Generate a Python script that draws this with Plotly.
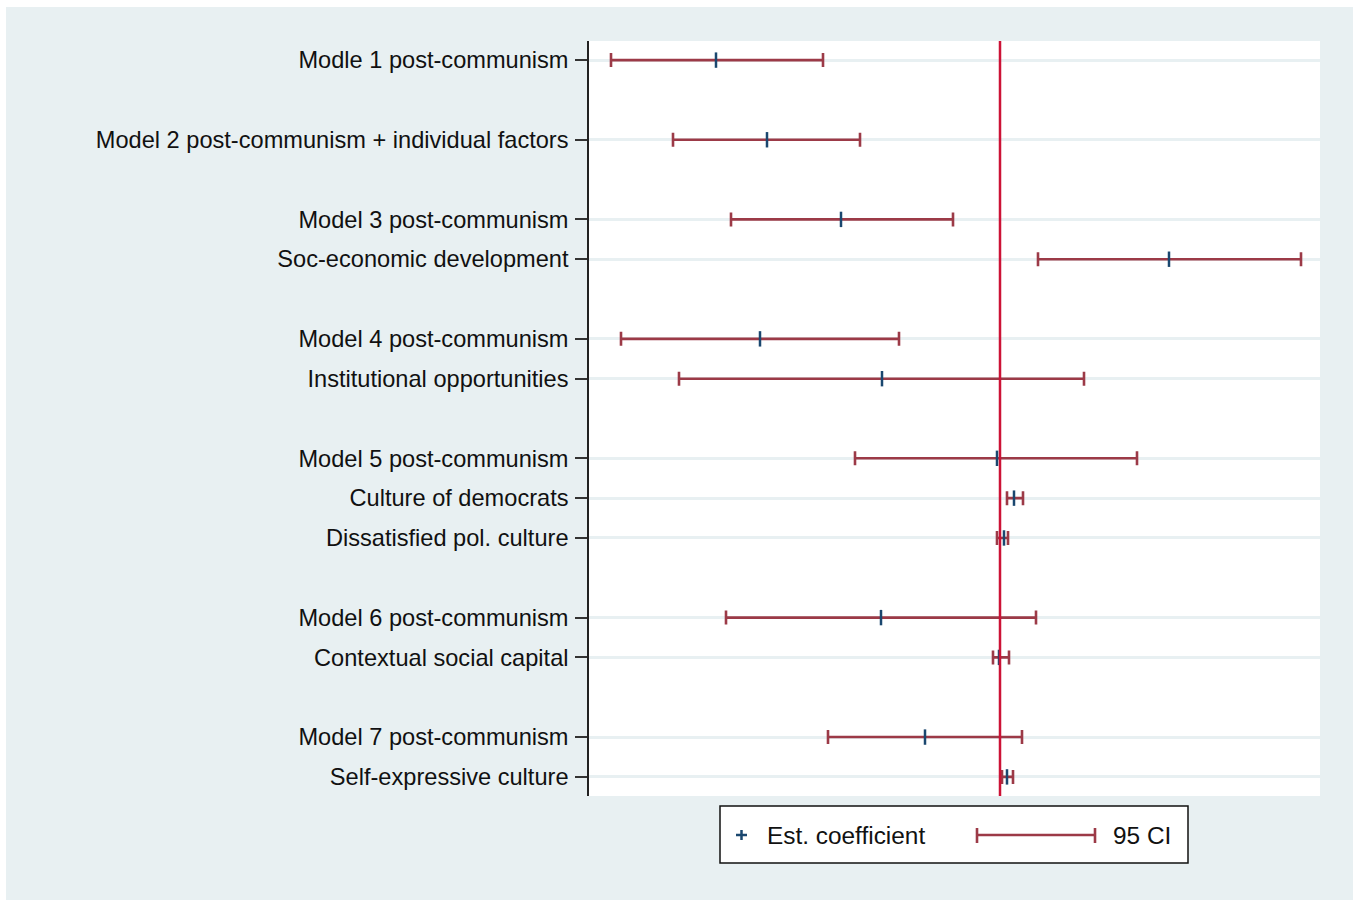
import plotly.graph_objects as go

labels = [
    "Modle 1 post-communism",
    "Model 2 post-communism + individual factors",
    "Model 3 post-communism",
    "Soc-economic development",
    "Model 4 post-communism",
    "Institutional opportunities",
    "Model 5 post-communism",
    "Culture of democrats",
    "Dissatisfied pol. culture",
    "Model 6 post-communism",
    "Contextual social capital",
    "Model 7 post-communism",
    "Self-expressive culture",
]
rows = [0, 2, 4, 5, 7, 8, 10, 11, 12, 14, 15, 17, 18]
estimate = [-2.84, -2.33, -1.59, 1.69, -2.40, -1.18, -0.03, 0.14, 0.04, -1.19, -0.01, -0.75, 0.07]
ci_low = [-3.89, -3.27, -2.69, 0.38, -3.79, -3.21, -1.45, 0.07, -0.03, -2.74, -0.07, -1.72, 0.02]
ci_high = [-1.77, -1.40, -0.47, 3.01, -1.01, 0.84, 1.37, 0.23, 0.08, 0.36, 0.09, 0.22, 0.13]

CI_COLOR = "#9c3a47"
EST_COLOR = "#1a476f"
ZERO_COLOR = "#cc1236"
BG = "#e8f0f2"
FONT = "Liberation Sans, Arial, sans-serif"

fig = go.Figure()
fig.add_trace(go.Scatter(
    x=estimate, y=rows, mode="markers",
    marker=dict(symbol="line-ns", size=11, color=EST_COLOR,
                line=dict(color=EST_COLOR, width=2.5)),
    error_x=dict(type="data", symmetric=False,
                 array=[h - e for h, e in zip(ci_high, estimate)],
                 arrayminus=[e - l for e, l in zip(estimate, ci_low)],
                 color=CI_COLOR, thickness=2.6, width=7),
    showlegend=False, hoverinfo="skip",
))

L, R, T, B = 589, 1320, 41, 796
W, H = R - L, B - T
def px(x):
    return (x - L) / W
def py(y):
    return (B - y) / H

shapes = [
    # outer background panel
    dict(type="rect", xref="paper", yref="paper", x0=px(6), x1=px(1353), y0=py(900), y1=py(7),
         fillcolor=BG, line=dict(width=0), layer="below"),
    # white plot region
    dict(type="rect", xref="paper", yref="paper", x0=0, x1=1, y0=0, y1=1,
         fillcolor="white", line=dict(width=0), layer="below"),
    # zero line
    dict(type="line", xref="x", yref="paper", x0=0, x1=0, y0=0, y1=1,
         line=dict(color=ZERO_COLOR, width=2.5), layer="above"),
    # legend box
    dict(type="rect", xref="paper", yref="paper", x0=px(720), x1=px(1188), y0=py(863), y1=py(806),
         fillcolor="white", line=dict(color="#111111", width=1.5), layer="above"),
    # legend "+" marker
    dict(type="line", xref="paper", yref="paper", x0=px(736), x1=px(747), y0=py(835), y1=py(835),
         line=dict(color=EST_COLOR, width=2.5), layer="above"),
    dict(type="line", xref="paper", yref="paper", x0=px(741.5), x1=px(741.5), y0=py(830), y1=py(840),
         line=dict(color=EST_COLOR, width=2.5), layer="above"),
    # legend CI symbol
    dict(type="line", xref="paper", yref="paper", x0=px(977), x1=px(1095), y0=py(835), y1=py(835),
         line=dict(color=CI_COLOR, width=2.6), layer="above"),
    dict(type="line", xref="paper", yref="paper", x0=px(977), x1=px(977), y0=py(828), y1=py(843),
         line=dict(color=CI_COLOR, width=2.6), layer="above"),
    dict(type="line", xref="paper", yref="paper", x0=px(1095), x1=px(1095), y0=py(828), y1=py(843),
         line=dict(color=CI_COLOR, width=2.6), layer="above"),
]

annotations = [
    dict(xref="paper", yref="paper", x=px(765), y=py(835), text="Est. coefficient",
         showarrow=False, xanchor="left", yanchor="middle",
         font=dict(family=FONT, size=24.4, color="#111111")),
    dict(xref="paper", yref="paper", x=px(1111), y=py(835), text="95 CI",
         showarrow=False, xanchor="left", yanchor="middle",
         font=dict(family=FONT, size=24.4, color="#111111")),
]

fig.update_layout(
    width=1359, height=900,
    margin=dict(l=L, r=1359 - R, t=T, b=900 - B),
    paper_bgcolor="white", plot_bgcolor="white",
    shapes=shapes, annotations=annotations,
    showlegend=False,
    font=dict(family=FONT, size=23.6, color="#111111"),
)
fig.update_xaxes(range=[-4.11, 3.20], showgrid=False, zeroline=False, showticklabels=False,
                 ticks="", showline=False)
fig.update_yaxes(range=[18.48, -0.48], tickmode="array", tickvals=rows, ticktext=labels,
                 showgrid=True, gridcolor=BG, gridwidth=2.5, zeroline=False,
                 showline=True, linecolor="#222222", linewidth=1.5,
                 ticks="outside", ticklen=12, tickwidth=1.5, tickcolor="#333333",
                 ticklabelstandoff=2,
                 tickfont=dict(family=FONT, size=23.6, color="#111111"))

fig.write_html("out.html", config={"displayModeBar": False},
               post_script="document.body.style.margin='0px';document.body.style.overflow='hidden';")
